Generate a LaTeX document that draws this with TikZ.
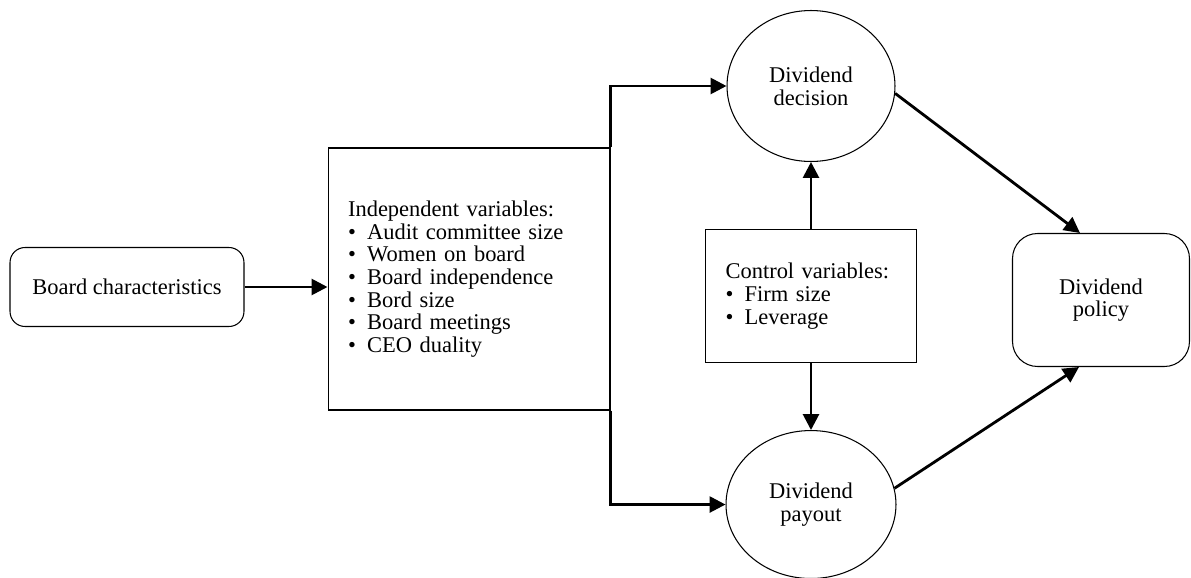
\documentclass[tikz,border=0pt]{standalone}
\usepackage{fontspec}
\setmainfont{Liberation Serif}
\usetikzlibrary{positioning,shapes,arrows.meta}
\tikzstyle{varbox}=[rectangle, draw=black, line width=0.6pt, text=black,
        font=\fontsize{12.8}{12.9}\selectfont]
\tikzstyle{roundbox}=[varbox, align=center]
\tikzstyle{listbox}=[varbox, align=left, inner xsep=0.4cm]
\tikzstyle{outcome}=[varbox, ellipse, inner sep=0pt, align=center]
\tikzstyle{line}=[line width=1.6pt,-{Triangle[length=9pt,width=9pt]}]

\begin{document}
\begin{tikzpicture}[x=0.02cm, y=-0.02cm]
\useasboundingbox (0,0) rectangle (1191,578);

\node (BoardChar) [roundbox, rounded corners=0.3cm, minimum width=4.68cm, minimum height=1.58cm] at (127,287) {Board characteristics};
\node (IndepVars) [listbox, text width=4.84cm, minimum height=5.24cm] at (469,279) {Independent variables:\\
	\textbullet\enspace Audit committee size\\
	\textbullet\enspace Women on board\\
	\textbullet\enspace Board independence\\
	\textbullet\enspace Bord size\\
	\textbullet\enspace Board meetings\\
	\textbullet\enspace CEO duality};
\node (DivDecision) [outcome, minimum width=3.36cm, minimum height=3.02cm] at (811,86) {Dividend\\decision};
\node (ControlVars) [listbox, text width=3.42cm, minimum height=2.66cm, below=1.34cm of DivDecision] {Control variables:\\
	\textbullet\enspace Firm size\\
	\textbullet\enspace Leverage};
\node (DivPayout) [outcome, minimum width=3.4cm, minimum height=2.96cm, below=1.34cm of ControlVars] {Dividend\\payout};
\node (DivPolicy) [roundbox, rounded corners=0.5cm, minimum width=3.54cm, minimum height=2.66cm] at (1101,300) {Dividend\\policy};

% draw lines
\draw[line] (BoardChar.east) -- (BoardChar.east -| IndepVars.west);
\draw[line] (IndepVars.north east) |- (DivDecision.west);
\draw[line] (IndepVars.south east) |- (DivPayout.west);
\draw[line] (ControlVars.north) -- (DivDecision.south);
\draw[line] (ControlVars.south) -- (DivPayout.north);
\draw[line] (DivDecision.-5) -- ([xshift=-0.42cm]DivPolicy.north);
\draw[line] (DivPayout.11) -- ([xshift=-0.44cm]DivPolicy.south);

\end{tikzpicture}
\end{document}
